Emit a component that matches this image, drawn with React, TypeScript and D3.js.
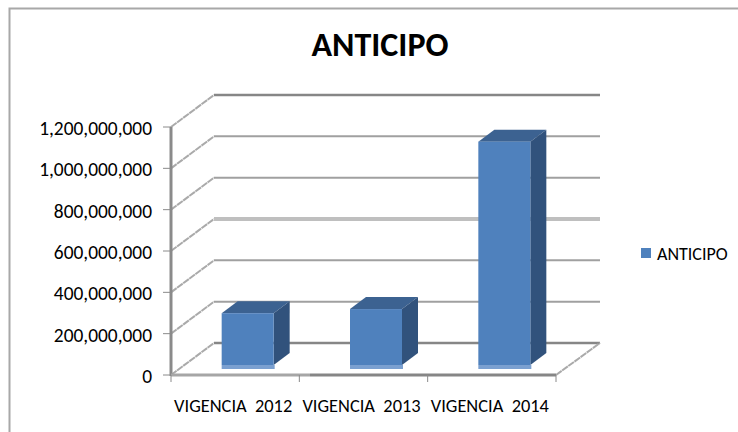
import React from "react";
import * as d3 from "d3";

const categories = ["VIGENCIA  2012", "VIGENCIA  2013", "VIGENCIA  2014"];
const seriesName = "ANTICIPO";
const anticipo = [270000000, 290000000, 1100000000];
const yTicks = [0, 200000000, 400000000, 600000000, 800000000, 1000000000, 1200000000];

const FONT = "Carlito, Lato, 'Open Sans', sans-serif";
const y = d3.scaleLinear().domain([0, 1200000000]).range([375, 127]);
const x = d3.scaleBand<string>().domain(categories).range([171, 556]);
const fmt = d3.format(",");

const depthX = 43, depthY = 32;
const barDepthX = 16, barDepthY = 12;
const barW = 52, barOffsetX = 12.5, barBaseLift = 10, bandH = 4;

export default function App() {
  const step = x.step();
  return (
    <svg width={738} height={432} style={{ position: "absolute", left: 0, top: 0, background: "#fff" }}>
      {/* chart frame */}
      <path d="M9.5,432V8.5H738" fill="none" stroke="#a8a8a8" strokeWidth={2} />
      <text x={380} y={56} textAnchor="middle" fontFamily={FONT} fontSize={34} fontWeight={700} fill="#000">{seriesName}</text>

      {/* back wall grid and side wall diagonals */}
      {yTicks.map((t) => (
        <g key={t}>
          <line x1={171} x2={171 + depthX} y1={y(t)} y2={y(t) - depthY} stroke="#aaaaaa" strokeWidth={2} strokeDasharray="7 0.6" />
          <line
            x1={171 + depthX}
            x2={600}
            y1={y(t) - depthY}
            y2={y(t) - depthY}
            stroke={t === 600000000 ? "#bfbfbf" : t === 0 || t === 1200000000 ? "#868686" : "#a0a0a0"}
            strokeWidth={t === 600000000 ? 4 : t === 0 || t === 1200000000 ? 2.5 : 2}
          />
          <line x1={163} x2={171} y1={y(t)} y2={y(t)} stroke="#8a8a8a" strokeWidth={1} />
          <text x={152} y={y(t) + 8} textAnchor="end" fontFamily={FONT} fontSize={19.4} fill="#000">{fmt(t)}</text>
        </g>
      ))}
      <line x1={556} x2={600} y1={375} y2={343} stroke="#aaaaaa" strokeWidth={2} strokeDasharray="7 0.6" />

      {/* axes */}
      <line x1={171} x2={171} y1={127} y2={376} stroke="#8a8a8a" strokeWidth={3} />
      <line x1={171} x2={310} y1={375} y2={375} stroke="#a6a6a6" strokeWidth={3} />
      <line x1={310} x2={556} y1={375} y2={375} stroke="#868686" strokeWidth={3} />
      {[0, 1, 2, 3].map((i) => (
        <line key={i} x1={171 + i * step} x2={171 + i * step} y1={375} y2={382} stroke="#8a8a8a" strokeWidth={1} />
      ))}
      {categories.map((c) => (
        <text key={c} x={(x(c) as number) + step / 2 - 2} y={412} textAnchor="middle" fontFamily={FONT} fontSize={18.4} fill="#000" style={{ whiteSpace: "pre" }}>{c}</text>
      ))}

      {/* bars */}
      {categories.map((c, i) => {
        const left = (x(c) as number) + step / 2 + barOffsetX - barW / 2;
        const right = left + barW;
        const base = y(0) - barBaseLift;
        const top = y(anticipo[i]) - barBaseLift + 4;
        return (
          <g key={c}>
            <path d={`M${left},${top}L${left + barDepthX},${top - barDepthY}H${right + barDepthX}L${right},${top}Z`} fill="#3c6291" />
            <path d={`M${right},${top}L${right + barDepthX},${top - barDepthY}V${base - barDepthY}L${right},${base}Z`} fill="#31527c" />
            <rect x={left} y={top} width={barW} height={base - top} fill="#4f81bd" />
            <rect x={left} y={base} width={barW + 1} height={bandH} fill="#7ba0d0" />
          </g>
        );
      })}

      {/* legend */}
      <rect x={641} y={248} width={10} height={10} fill="#4f81bd" />
      <text x={657} y={260} fontFamily={FONT} fontSize={18} fill="#000">{seriesName}</text>
    </svg>
  );
}
